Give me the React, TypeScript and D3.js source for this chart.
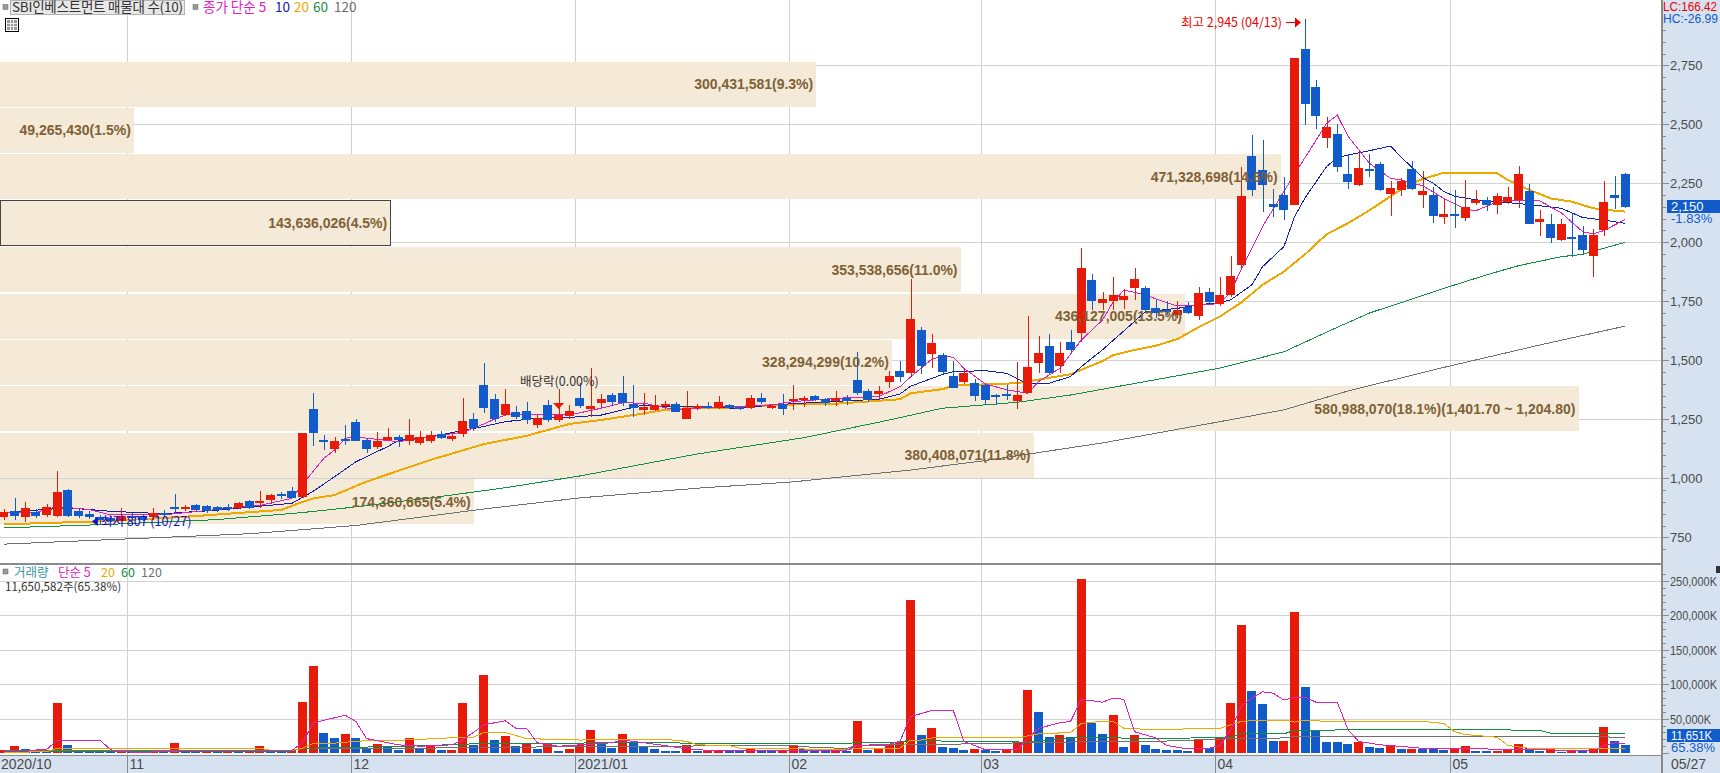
import React from 'react';
import * as d3 from 'd3';

// 일봉 (2020/10/14 ~ 2021/05/27), 153 sessions
const opens = [838,862,835,858,845,842,950,860,850,835,832,820,842,840,835,855,878,870,887,882,878,878,874,904,895,908,933,946,921,1294,1162,1124,1166,1238,1162,1133,1162,1175,1158,1150,1160,1188,1165,1187,1251,1395,1336,1268,1281,1285,1225,1311,1247,1264,1340,1294,1319,1353,1361,1315,1290,1290,1306,1315,1251,1298,1306,1298,1311,1301,1298,1340,1298,1315,1328,1332,1349,1336,1328,1340,1417,1370,1357,1408,1455,1446,1628,1527,1522,1434,1408,1404,1395,1353,1357,1328,1362,1489,1561,1476,1578,1616,1840,1743,1751,1755,1806,1806,1720,1715,1690,1725,1686,1790,1740,1777,1904,2366,2307,2162,2201,2158,2819,2658,2442,2459,2290,2243,2311,2332,2205,2222,2311,2200,2200,2107,2120,2103,2167,2179,2158,2171,2179,2217,2086,2078,2010,2023,2031,1942,2052,2200,2290];
const highs = [870,918,901,868,891,1031,955,874,862,845,840,874,855,850,876,865,934,887,890,886,882,890,899,908,946,933,942,963,1192,1361,1183,1175,1226,1251,1171,1196,1213,1183,1251,1200,1200,1200,1190,1339,1277,1489,1357,1378,1306,1323,1268,1332,1378,1311,1404,1467,1357,1361,1433,1395,1361,1353,1328,1323,1370,1315,1323,1349,1315,1306,1353,1361,1315,1357,1395,1349,1353,1340,1370,1353,1535,1378,1391,1455,1497,1844,1641,1612,1531,1497,1463,1421,1400,1357,1395,1493,1688,1603,1612,1578,1628,1976,1866,1789,1853,1802,1891,1815,1760,1750,1750,1745,1811,1806,1853,1942,2319,2455,2434,2226,2277,2781,2945,2688,2531,2501,2374,2391,2374,2340,2260,2271,2345,2302,2234,2183,2222,2264,2222,2192,2209,2234,2323,2247,2137,2120,2099,2120,2069,2056,2260,2281,2294];
const lows = [825,825,815,830,835,835,835,830,826,807,815,815,820,818,825,835,855,860,858,855,858,862,868,868,873,893,913,915,918,1137,1120,1107,1141,1158,1107,1124,1158,1133,1141,1140,1150,1165,1160,1175,1200,1277,1240,1262,1250,1230,1215,1240,1240,1253,1298,1261,1298,1306,1306,1261,1268,1285,1294,1281,1251,1290,1294,1294,1294,1290,1294,1315,1294,1268,1290,1302,1328,1306,1306,1311,1353,1323,1332,1383,1408,1429,1442,1467,1442,1383,1400,1328,1311,1311,1332,1294,1362,1446,1442,1446,1535,1578,1713,1713,1713,1717,1755,1700,1680,1690,1680,1695,1670,1735,1730,1770,1883,2196,2129,2107,2095,2158,2497,2480,2400,2300,2226,2240,2277,2218,2111,2196,2222,2145,2082,2077,2061,2090,2158,2133,2120,2162,2145,2078,2027,1997,2006,1938,1946,1853,2027,2141,2145];
const closes = [858,840,874,842,878,942,842,840,838,822,820,840,830,825,855,845,868,878,865,862,866,873,895,873,904,929,928,917,1192,1192,1158,1158,1158,1158,1124,1158,1175,1162,1183,1175,1185,1172,1180,1242,1215,1298,1251,1315,1260,1247,1255,1247,1268,1285,1306,1306,1336,1323,1319,1298,1301,1309,1315,1281,1298,1306,1298,1323,1298,1298,1340,1323,1306,1294,1336,1340,1332,1319,1340,1326,1362,1332,1370,1434,1429,1675,1476,1573,1451,1383,1446,1349,1332,1344,1349,1353,1472,1531,1446,1531,1544,1891,1751,1760,1777,1772,1844,1713,1700,1705,1715,1700,1784,1746,1777,1857,2196,2222,2243,2150,2137,2781,2586,2535,2489,2319,2256,2315,2302,2222,2230,2260,2226,2217,2112,2120,2112,2150,2181,2158,2196,2192,2290,2078,2099,2018,2078,2018,1968,2031,2171,2188,2150];

// 이동평균선 [session, price]
const ma5: [number, number][] = [[0,855],[3,855],[5,880],[8,868],[10,845],[15,845],[20,868],[24,885],[27,915],[28,975],[29,1030],[30,1085],[31,1120],[32,1170],[33,1175],[35,1165],[37,1155],[40,1176],[43,1195],[45,1230],[46,1251],[47,1268],[49,1272],[53,1268],[56,1297],[58,1320],[60,1318],[63,1290],[66,1300],[72,1311],[74,1325],[78,1339],[82,1346],[84,1388],[85,1430],[87,1505],[88,1518],[89,1513],[90,1466],[92,1400],[94,1375],[96,1360],[97,1410],[99,1466],[101,1586],[103,1671],[104,1748],[105,1798],[107,1777],[108,1760],[110,1730],[112,1735],[114,1740],[115,1790],[116,1885],[118,2067],[121,2290],[122,2360],[124,2504],[125,2539],[126,2450],[128,2335],[130,2271],[131,2264],[133,2240],[135,2186],[137,2140],[138,2134],[140,2172],[141,2179],[144,2175],[146,2125],[147,2085],[148,2045],[149,2035],[150,2050],[152,2097]];
const ma10: [number, number][] = [[0,855],[6,875],[10,860],[15,850],[20,865],[22,873],[24,882],[27,894],[29,945],[31,1007],[33,1070],[36,1135],[37,1160],[40,1176],[45,1220],[47,1240],[50,1254],[53,1258],[56,1268],[58,1290],[60,1311],[62,1304],[64,1306],[69,1296],[72,1311],[78,1326],[82,1335],[84,1357],[85,1390],[88,1440],[89,1452],[92,1456],[94,1445],[96,1400],[98,1403],[100,1431],[101,1473],[103,1545],[106,1665],[107,1706],[110,1720],[112,1735],[114,1745],[115,1756],[117,1820],[118,1897],[120,1982],[121,2109],[122,2190],[124,2321],[125,2360],[128,2388],[130,2408],[131,2360],[133,2275],[134,2250],[135,2215],[136,2195],[138,2180],[141,2168],[143,2160],[146,2144],[148,2105],[150,2094],[152,2080]];
const ma20: [number, number][] = [[0,805],[10,819],[18,840],[26,866],[28,900],[29,915],[31,929],[34,986],[40,1078],[45,1145],[49,1180],[53,1230],[56,1247],[59,1268],[62,1290],[64,1297],[69,1300],[72,1311],[78,1316],[84,1335],[85,1360],[88,1378],[89,1393],[95,1403],[100,1441],[103,1497],[104,1522],[106,1544],[108,1562],[110,1590],[112,1640],[114,1685],[116,1745],[118,1820],[120,1876],[122,1950],[124,2034],[126,2081],[128,2135],[131,2225],[132,2250],[133,2268],[135,2295],[136,2295],[140,2292],[141,2264],[143,2222],[145,2186],[147,2172],[149,2144],[151,2134],[152,2130]];
const ma60: [number, number][] = [[0,790],[10,805],[20,825],[28,855],[32,874],[40,917],[47,960],[54,1010],[65,1103],[75,1172],[83,1247],[88,1297],[95,1322],[100,1353],[107,1410],[114,1467],[120,1536],[125,1640],[128,1700],[132,1760],[135,1805],[139,1862],[142,1901],[146,1939],[148,1949],[150,1975],[152,2000]];
const ma120: [number, number][] = [[0,721],[12,744],[23,765],[33,800],[45,870],[54,917],[65,958],[74,985],[85,1035],[92,1075],[103,1150],[114,1240],[120,1290],[126,1370],[135,1470],[144,1565],[152,1645]];

const volumes = [5000,10000,6000,3500,3500,73000,12000,4000,4000,4000,2000,3500,3000,2000,4000,2000,15000,4000,2500,2500,2500,2000,1500,3000,10000,4000,2000,4000,74000,127000,29000,22000,28000,22000,6000,13000,10000,5000,22000,6500,10000,5000,5000,73000,12000,113000,19000,25000,10000,13000,6000,13000,3000,6000,12000,34000,13000,8000,28000,16000,9000,6000,3500,3500,12000,2500,5000,5000,5000,3000,6000,3000,3000,5000,12000,6000,3500,2500,5000,3500,47000,5000,6000,13000,16000,222000,26000,36000,9000,8000,5000,6000,5000,3500,5000,16000,91000,60000,24000,26000,24000,253000,44000,28000,55000,9000,26000,12000,6000,4500,4500,3000,21000,7500,24000,73000,186000,90000,71000,17000,18000,205000,96000,32000,16000,16000,13000,16000,9000,7500,10000,6000,6000,6000,6000,4500,6000,10000,3000,3000,3000,4500,13000,7500,3000,6000,1500,4500,3000,6000,38000,18000,11651];
const volumeSides = 'RRBBBRBBBB' + 'BRBBRBRBBR' + 'BRBRRBBRRR' + 'BBRBBRBBRB' + 'RBRRBRBRBR' + 'BRBRRRBBRB' + 'BBBBRBRRBB' + 'RBBRRBBBRB' + 'RBRRRRBRBB' + 'BRBBRRRBBR' + 'BRBBRBRBBB' + 'BBRBRRRBBB' + 'RRBBBBBRBB' + 'RBRBBBRRBB' + 'RRRBBRBRBR' + 'RBB';

const volMa5: [number, number][] = [[0,3000],[4,5000],[5,19000],[9,19000],[10,5000],[11,2000],[13,1000],[16,3000],[24,4000],[27,4000],[28,15000],[29,44000],[32,55000],[33,46000],[34,21000],[35,18000],[37,12000],[39,10000],[42,12000],[43,19000],[45,41000],[47,47000],[48,36000],[49,36000],[50,15000],[52,10000],[54,12000],[57,15000],[58,19000],[60,15000],[62,11000],[64,6000],[66,4000],[73,4000],[79,4000],[80,11000],[83,13000],[84,17000],[85,53000],[87,62000],[89,62000],[90,17000],[92,5000],[95,5000],[96,22000],[97,36000],[99,44000],[100,46000],[101,78000],[103,74000],[104,80000],[105,78000],[106,31000],[108,22000],[109,11000],[111,6000],[113,7000],[114,11000],[115,34000],[116,68000],[117,80000],[118,89000],[119,87000],[120,77000],[121,81000],[122,81000],[123,74000],[125,74000],[126,34000],[127,17000],[129,12000],[130,11000],[133,7000],[135,6000],[139,6000],[141,5000],[144,5000],[149,3000],[150,11000],[151,15000],[152,14000]];
const volMa20: [number, number][] = [[0,1000],[4,2000],[5,7000],[24,7000],[25,4000],[27,4000],[28,7000],[29,14000],[31,14500],[33,17000],[34,18000],[36,18000],[39,20000],[43,23000],[44,23000],[45,30000],[47,30000],[49,21000],[54,19000],[62,20000],[64,17000],[65,12000],[68,11000],[69,7000],[74,7000],[76,5000],[79,5000],[80,7000],[84,7000],[85,19000],[86,19000],[87,22000],[95,22000],[97,28000],[100,30000],[101,43000],[102,45000],[104,46000],[105,36000],[108,34000],[113,36000],[114,36000],[116,46000],[118,48000],[120,48000],[121,45000],[122,48000],[124,46000],[133,46000],[135,43000],[136,31000],[137,27000],[140,23000],[141,11000],[143,7000],[149,6000],[152,7000]];
const volMa60: [number, number][] = [[0,3000],[27,3000],[28,7000],[38,10000],[45,14000],[54,14500],[58,16000],[64,14500],[79,14500],[84,16000],[85,19000],[89,17000],[96,16000],[101,23000],[108,21000],[115,23000],[116,28000],[120,28000],[121,33000],[128,34000],[139,34000],[144,33000],[145,29000],[152,29000]];
const volMa120: [number, number][] = [[0,4400],[27,3000],[28,7000],[38,7000],[54,9500],[74,11000],[76,8000],[79,7000],[80,11000],[84,12000],[89,13000],[99,16000],[108,17000],[115,21000],[120,22000],[121,24000],[148,24000],[152,23000]];

const priceTicks = [750,1000,1250,1500,1750,2000,2250,2500,2750];
const priceMinorTicks = d3.range(700, 2950, 50);
const volumeTicks = [50000,100000,150000,200000,250000];
const volumeMinorTicks = d3.range(10000, 270000, 10000);

const monthStarts = [12,33,54,74,92,114,136];
const dateLabels = ['2020/10','11','12','2021/01','02','03','04','05'];

// 매물대: 위에서 아래로
const bandShares = [300431581,49265430,471328698,143636026,353538656,436127005,328294299,580988070,380408071,174360665];
const bandLabels = ['300,431,581(9.3%)','49,265,430(1.5%)','471,328,698(14.6%)','143,636,026(4.5%)','353,538,656(11.0%)','436,127,005(13.5%)','328,294,299(10.2%)','580,988,070(18.1%)(1,401.70 ~ 1,204.80)','380,408,071(11.8%)','174,360,665(5.4%)'];

const RED = '#e81b0a';
const BLUE = '#125bcb';
const BAND = '#f5e9d8';
const GRID = '#d2d2d2';
const AXIS_BG = '#d6e2f0';
const AXIS_TEXT = '#4a4a4a';
const MAGENTA = '#e020c0';
const NAVY = '#1020b0';
const ORANGE = '#f0a800';
const GREEN = '#109040';
const GREY = '#707070';

const NUM_FONT = '"Liberation Sans Narrow", "Liberation Sans", sans-serif';
const KR_FONT = '"Noto Sans CJK KR", "Liberation Sans", sans-serif';

const W = 1720;
const H = 773;
const PLOT_R = 1662;
const CANDLE_W = 9;

const x = d3.scaleLinear().domain([0, 152]).range([3.9, 1625.3]);
const y = d3.scaleLinear().domain([750, 2750]).range([537.3, 65.3]);
const yVol = d3.scaleLinear().domain([0, 250000]).range([753.1, 581]);
const bandW = d3.scaleLinear().domain([0, 580988070]).range([0, 1578.5]);
const bandTop = d3.scaleLinear().domain([0, 1]).range([61.5, 107.9]);
const BAND_H = 45;

const grp = d3.format(',');

const linePath = (pts: [number, number][], ys: d3.ScaleLinear<number, number>) =>
  d3.line<[number, number]>().x(d => x(d[0])).y(d => ys(d[1]))(pts) || '';

const snap = (v: number) => Math.round(v) + 0.5;

export default function App() {
  const gridX = monthStarts.map(i => snap(x(i) - CANDLE_W / 2));

  return (
    <svg width={W} height={H} viewBox={`0 0 ${W} ${H}`} style={{ position: 'fixed', left: 0, top: 0, display: 'block', background: '#fff' }}>
      {/* 격자 */}
      <g stroke={GRID} strokeWidth={1} shapeRendering="crispEdges">
        {gridX.map(gx => <line key={gx} x1={gx} x2={gx} y1={0} y2={755} />)}
        {priceTicks.map(t => <line key={t} x1={0} x2={PLOT_R} y1={snap(y(t))} y2={snap(y(t))} />)}
        {volumeTicks.map(t => <line key={t} x1={0} x2={PLOT_R} y1={snap(yVol(t))} y2={snap(yVol(t))} />)}
      </g>

      {/* 매물대 */}
      <g shapeRendering="crispEdges">
        {bandShares.map((s, i) => (
          <rect key={i} x={0} y={bandTop(i)} width={bandW(s)} height={BAND_H} fill={BAND}
            stroke={i === 3 ? '#444' : 'none'} strokeWidth={1} />
        ))}
      </g>

      {/* 이평선 */}
      <g fill="none" shapeRendering="crispEdges">
        <path d={linePath(ma120, y)} stroke={GREY} strokeWidth={1} />
        <path d={linePath(ma60, y)} stroke={GREEN} strokeWidth={1} />
        <path d={linePath(ma20, y)} stroke={ORANGE} strokeWidth={2} />
        <path d={linePath(ma10, y)} stroke={NAVY} strokeWidth={1} />
        <path d={linePath(ma5, y)} stroke={MAGENTA} strokeWidth={1} />
      </g>

      {/* 캔들 */}
      <g shapeRendering="crispEdges">
        {opens.map((o, i) => {
          const c = closes[i];
          const color = c > o ? RED : BLUE;
          const top = y(Math.max(o, c));
          const h = Math.max(2, Math.abs(y(o) - y(c)));
          const cx = x(i);
          return (
            <g key={i}>
              <line x1={snap(cx)} x2={snap(cx)} y1={y(highs[i])} y2={y(lows[i])} stroke={color} strokeWidth={1} />
              <rect x={Math.round(cx - CANDLE_W / 2)} y={top} width={CANDLE_W} height={h} fill={color} />
            </g>
          );
        })}
      </g>

      {/* 매물대 라벨 */}
      <g fontFamily={NUM_FONT} fontSize={14} fontWeight={700} fill="#7d6236" textAnchor="end">
        {bandLabels.map((l, i) => (
          <text key={i} x={bandW(bandShares[i]) - 3} y={bandTop(i) + BAND_H / 2 + 5}>{l}</text>
        ))}
      </g>

      {/* 최고, 최저, 배당락 */}
      <text x={1181} y={27} fontFamily={KR_FONT} fontSize={12.5} fill="#f00000">최고 2,945 (04/13)</text>
      <path d={`M1286,22.5H1296`} stroke="#f00000" strokeWidth={1} />
      <path d={`M1295,17.5L1301,22.5L1295,27.5Z`} fill="#f00000" />
      <path d={`M${x(9) - 8},521.5L${x(9) - 2},517L${x(9) - 2},526Z`} fill="#1010d0" />
      <text x={x(9) + 1} y={526} fontFamily={KR_FONT} fontSize={12.5} fill="#1010d0">최저 807 (10/27)</text>
      <text x={520} y={386} fontFamily={KR_FONT} fontSize={12.5} fill="#333">배당락(0.00%)</text>
      <path d={`M${x(52) - 5.5},403L${x(52) + 5.5},403L${x(52)},409Z`} fill={RED} />

      {/* 상단 범례 */}
      <rect x={3} y={4.5} width={5} height={5} fill="#999" stroke="#666" strokeWidth={0.5} />
      <rect x={10.5} y={0.5} width={174} height={14} fill="#e8e8e8" stroke="#b4b4b4" />
      <text x={12} y={12} fontFamily={KR_FONT} fontSize={13.5} textLength={171} lengthAdjust="spacing" fill="#333">SBI인베스트먼트 매물대 수(10)</text>
      <rect x={193} y={4.5} width={5} height={5} fill="#999" stroke="#666" strokeWidth={0.5} />
      <g fontFamily={KR_FONT} fontSize={13.5}>
        <text x={203} y={12} fill={MAGENTA}>종가 단순 5</text>
        <text x={275} y={12} fill={NAVY}>10</text>
        <text x={294} y={12} fill={ORANGE}>20</text>
        <text x={313} y={12} fill={GREEN}>60</text>
        <text x={334} y={12} fill={GREY}>120</text>
      </g>
      <g shapeRendering="crispEdges">
        <rect x={5.5} y={18.5} width={13} height={13} fill="#fff" stroke="#000" />
        <rect x={7} y={20} width={10} height={10} fill="#999" />
        <path d="M10.5,20V30M13.5,20V30M7,23.5H17M7,26.5H17" stroke="#eee" strokeWidth={1} />
      </g>

      {/* 거래량 */}
      <g shapeRendering="crispEdges">
        {volumes.map((v, i) => (
          <rect key={i} x={Math.round(x(i) - CANDLE_W / 2)} y={yVol(v)} width={CANDLE_W} height={yVol(0) - yVol(v)}
            fill={volumeSides[i] === 'R' ? RED : BLUE} />
        ))}
      </g>
      <g fill="none" shapeRendering="crispEdges">
        <path d={linePath(volMa120, yVol)} stroke={GREY} strokeWidth={1} />
        <path d={linePath(volMa60, yVol)} stroke={GREEN} strokeWidth={1} />
        <path d={linePath(volMa20, yVol)} stroke={ORANGE} strokeWidth={1} />
        <path d={linePath(volMa5, yVol)} stroke={MAGENTA} strokeWidth={1} />
      </g>
      <rect x={3} y={569} width={5} height={5} fill="#999" stroke="#666" strokeWidth={0.5} />
      <g fontFamily={KR_FONT} fontSize={12.5}>
        <text x={14} y={577} fill="#3a9a9a">거래량</text>
        <text x={58} y={577} fill={MAGENTA}>단순 5</text>
        <text x={101} y={577} fill={ORANGE}>20</text>
        <text x={121} y={577} fill={GREEN}>60</text>
        <text x={141} y={577} fill={GREY}>120</text>
        <text x={5} y={591} fontSize={11.6} fill="#333">11,650,582주(65.38%)</text>
      </g>

      {/* 오른쪽 축 */}
      <rect x={PLOT_R} y={0} width={W - PLOT_R} height={H} fill={AXIS_BG} />
      <rect x={0} y={755} width={W} height={H - 755} fill={AXIS_BG} />
      <g stroke="#8a8a8a" shapeRendering="crispEdges">
        <line x1={PLOT_R} x2={PLOT_R} y1={0} y2={H} strokeWidth={2} />
        <line x1={0} x2={PLOT_R} y1={755.5} y2={755.5} strokeWidth={1} />
        <line x1={0} x2={PLOT_R + 1} y1={563.5} y2={563.5} strokeWidth={2} />
        {gridX.map(gx => <line key={gx} x1={gx} x2={gx} y1={755} y2={H} strokeWidth={1} />)}
        {priceMinorTicks.filter(t => y(t) > 26 && y(t) < 562).map(t => (
          <line key={t} x1={PLOT_R} x2={PLOT_R + (t % 250 === 0 ? 7 : 4)} y1={snap(y(t))} y2={snap(y(t))} />
        ))}
        {volumeMinorTicks.filter(t => yVol(t) > 566).map(t => (
          <line key={t} x1={PLOT_R} x2={PLOT_R + (t % 50000 === 0 ? 7 : 4)} y1={snap(yVol(t))} y2={snap(yVol(t))} />
        ))}
        <line x1={PLOT_R} x2={PLOT_R + 7} y1={snap(yVol(0))} y2={snap(yVol(0))} />
      </g>
      <g fontFamily={NUM_FONT} fontSize={13} fill={AXIS_TEXT}>
        {priceTicks.map(t => <text key={t} x={PLOT_R + 8} y={y(t) + 5}>{grp(t)}</text>)}
        {volumeTicks.map(t => (
          <text key={t} x={PLOT_R + 8} y={yVol(t) + 5} textLength={t < 100000 ? 41 : 47} lengthAdjust="spacingAndGlyphs">{`${grp(t)}K`}</text>
        ))}
      </g>
      <text x={PLOT_R + 1} y={11} fontFamily={NUM_FONT} fontSize={13} textLength={54} lengthAdjust="spacingAndGlyphs" fill="#f00000">LC:166.42</text>
      <text x={PLOT_R + 1} y={23} fontFamily={NUM_FONT} fontSize={13} textLength={55} lengthAdjust="spacingAndGlyphs" fill={BLUE}>HC:-26.99</text>

      <rect x={1667} y={200} width={53} height={13} fill={BLUE} />
      <text x={1671} y={211} fontFamily={NUM_FONT} fontSize={13} fill="#fff">2,150</text>
      <text x={1671} y={223} fontFamily={NUM_FONT} fontSize={13} fill={BLUE}>-1.83%</text>
      <rect x={1667} y={729} width={53} height={13} fill={BLUE} />
      <text x={1671} y={740} fontFamily={NUM_FONT} fontSize={13} textLength={41} lengthAdjust="spacingAndGlyphs" fill="#fff">11,651K</text>
      <text x={1671} y={752} fontFamily={NUM_FONT} fontSize={13} fill={BLUE}>65.38%</text>
      <rect x={1716} y={566} width={4} height={7} fill="#333" />

      {/* 날짜 축 */}
      <g fontFamily={NUM_FONT} fontSize={14} fill={AXIS_TEXT}>
        <text x={1} y={769}>{dateLabels[0]}</text>
        {monthStarts.map((m, i) => (
          <text key={m} x={gridX[i] + 2} y={769}>{dateLabels[i + 1]}</text>
        ))}
        <text x={1671} y={769}>05/27</text>
      </g>
    </svg>
  );
}
